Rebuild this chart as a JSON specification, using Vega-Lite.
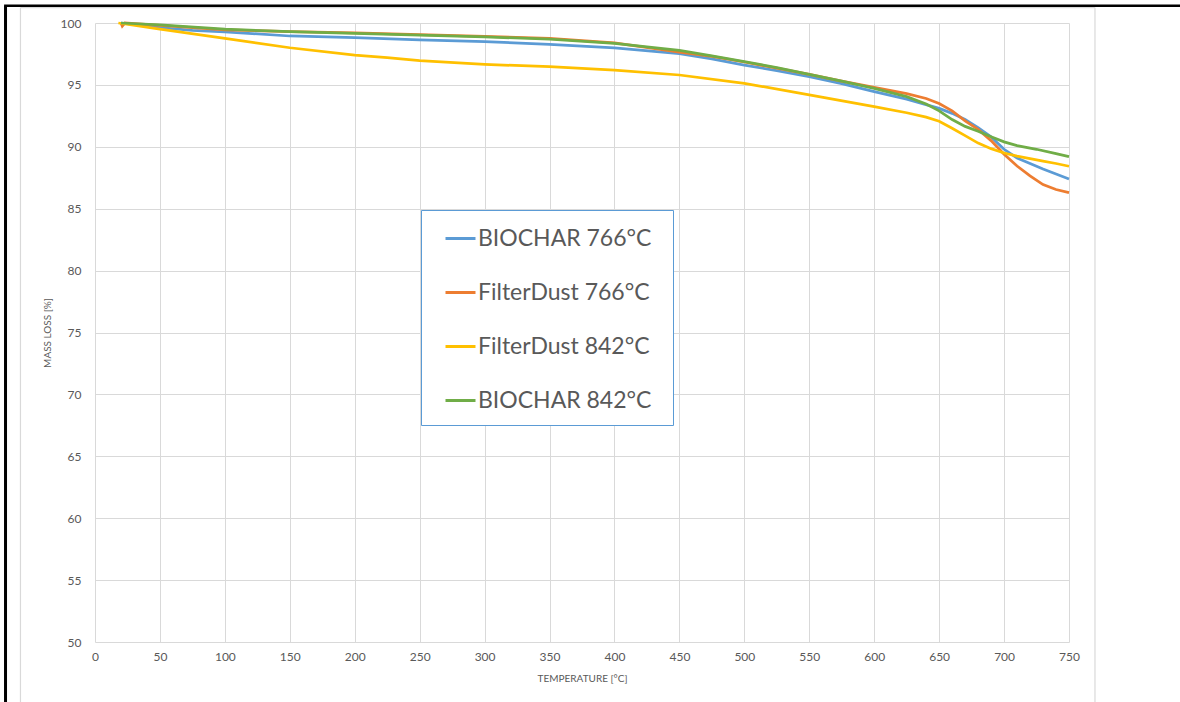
{
  "$schema": "https://vega.github.io/schema/vega-lite/v6.json",
  "width": 974,
  "height": 619,
  "autosize": {"type": "none"},
  "padding": {"left": 95, "top": 23, "right": 111, "bottom": 60},
  "background": "white",
  "config": {
    "view": {"stroke": null},
    "font": "Lato",
    "axis": {
      "labelFont": "Lato", "titleFont": "Lato",
      "labelColor": "#595959", "titleColor": "#595959",
      "grid": true, "gridColor": "#d9d9d9", "gridWidth": 1,
      "domain": false, "ticks": false, "labelFlush": false,
      "labelFontSize": 12, "titleFontSize": 10, "titleFontWeight": "normal"
    }
  },
  "datasets": {
    "curves": [
      {"s": "BIOCHAR 766°C", "t": 20, "v": 100},
      {"s": "BIOCHAR 766°C", "t": 50, "v": 99.62},
      {"s": "BIOCHAR 766°C", "t": 75, "v": 99.4},
      {"s": "BIOCHAR 766°C", "t": 100, "v": 99.28},
      {"s": "BIOCHAR 766°C", "t": 150, "v": 98.95},
      {"s": "BIOCHAR 766°C", "t": 200, "v": 98.82},
      {"s": "BIOCHAR 766°C", "t": 250, "v": 98.63},
      {"s": "BIOCHAR 766°C", "t": 300, "v": 98.5},
      {"s": "BIOCHAR 766°C", "t": 350, "v": 98.27},
      {"s": "BIOCHAR 766°C", "t": 400, "v": 98.0},
      {"s": "BIOCHAR 766°C", "t": 450, "v": 97.52},
      {"s": "BIOCHAR 766°C", "t": 475, "v": 97.1},
      {"s": "BIOCHAR 766°C", "t": 500, "v": 96.6},
      {"s": "BIOCHAR 766°C", "t": 525, "v": 96.15},
      {"s": "BIOCHAR 766°C", "t": 550, "v": 95.66},
      {"s": "BIOCHAR 766°C", "t": 575, "v": 95.1},
      {"s": "BIOCHAR 766°C", "t": 600, "v": 94.45},
      {"s": "BIOCHAR 766°C", "t": 625, "v": 93.85},
      {"s": "BIOCHAR 766°C", "t": 650, "v": 93.1},
      {"s": "BIOCHAR 766°C", "t": 660, "v": 92.7},
      {"s": "BIOCHAR 766°C", "t": 670, "v": 92.2},
      {"s": "BIOCHAR 766°C", "t": 680, "v": 91.55},
      {"s": "BIOCHAR 766°C", "t": 690, "v": 90.8},
      {"s": "BIOCHAR 766°C", "t": 700, "v": 89.8},
      {"s": "BIOCHAR 766°C", "t": 710, "v": 89.1},
      {"s": "BIOCHAR 766°C", "t": 720, "v": 88.65},
      {"s": "BIOCHAR 766°C", "t": 730, "v": 88.2},
      {"s": "BIOCHAR 766°C", "t": 740, "v": 87.8},
      {"s": "BIOCHAR 766°C", "t": 750, "v": 87.4},
      {"s": "FilterDust 766°C", "t": 20, "v": 100},
      {"s": "FilterDust 766°C", "t": 21, "v": 99.75},
      {"s": "FilterDust 766°C", "t": 23, "v": 100},
      {"s": "FilterDust 766°C", "t": 50, "v": 99.8},
      {"s": "FilterDust 766°C", "t": 100, "v": 99.45},
      {"s": "FilterDust 766°C", "t": 150, "v": 99.3},
      {"s": "FilterDust 766°C", "t": 200, "v": 99.2},
      {"s": "FilterDust 766°C", "t": 250, "v": 99.07},
      {"s": "FilterDust 766°C", "t": 300, "v": 98.92},
      {"s": "FilterDust 766°C", "t": 350, "v": 98.75},
      {"s": "FilterDust 766°C", "t": 400, "v": 98.4},
      {"s": "FilterDust 766°C", "t": 450, "v": 97.65},
      {"s": "FilterDust 766°C", "t": 475, "v": 97.3},
      {"s": "FilterDust 766°C", "t": 500, "v": 96.85},
      {"s": "FilterDust 766°C", "t": 525, "v": 96.35},
      {"s": "FilterDust 766°C", "t": 550, "v": 95.85},
      {"s": "FilterDust 766°C", "t": 575, "v": 95.3},
      {"s": "FilterDust 766°C", "t": 600, "v": 94.8},
      {"s": "FilterDust 766°C", "t": 625, "v": 94.3},
      {"s": "FilterDust 766°C", "t": 640, "v": 93.9},
      {"s": "FilterDust 766°C", "t": 650, "v": 93.5},
      {"s": "FilterDust 766°C", "t": 660, "v": 92.9},
      {"s": "FilterDust 766°C", "t": 670, "v": 92.1},
      {"s": "FilterDust 766°C", "t": 680, "v": 91.4},
      {"s": "FilterDust 766°C", "t": 690, "v": 90.5},
      {"s": "FilterDust 766°C", "t": 700, "v": 89.4},
      {"s": "FilterDust 766°C", "t": 710, "v": 88.45},
      {"s": "FilterDust 766°C", "t": 720, "v": 87.65},
      {"s": "FilterDust 766°C", "t": 730, "v": 86.95},
      {"s": "FilterDust 766°C", "t": 740, "v": 86.55},
      {"s": "FilterDust 766°C", "t": 750, "v": 86.3},
      {"s": "FilterDust 842°C", "t": 18, "v": 100},
      {"s": "FilterDust 842°C", "t": 50, "v": 99.5},
      {"s": "FilterDust 842°C", "t": 100, "v": 98.76},
      {"s": "FilterDust 842°C", "t": 150, "v": 98.0},
      {"s": "FilterDust 842°C", "t": 200, "v": 97.4},
      {"s": "FilterDust 842°C", "t": 225, "v": 97.2},
      {"s": "FilterDust 842°C", "t": 250, "v": 96.96},
      {"s": "FilterDust 842°C", "t": 300, "v": 96.66},
      {"s": "FilterDust 842°C", "t": 350, "v": 96.47},
      {"s": "FilterDust 842°C", "t": 400, "v": 96.2},
      {"s": "FilterDust 842°C", "t": 450, "v": 95.8},
      {"s": "FilterDust 842°C", "t": 500, "v": 95.13},
      {"s": "FilterDust 842°C", "t": 550, "v": 94.2},
      {"s": "FilterDust 842°C", "t": 600, "v": 93.24},
      {"s": "FilterDust 842°C", "t": 625, "v": 92.75},
      {"s": "FilterDust 842°C", "t": 640, "v": 92.4},
      {"s": "FilterDust 842°C", "t": 650, "v": 92.06},
      {"s": "FilterDust 842°C", "t": 660, "v": 91.5},
      {"s": "FilterDust 842°C", "t": 670, "v": 90.9},
      {"s": "FilterDust 842°C", "t": 680, "v": 90.3},
      {"s": "FilterDust 842°C", "t": 690, "v": 89.85},
      {"s": "FilterDust 842°C", "t": 700, "v": 89.5},
      {"s": "FilterDust 842°C", "t": 710, "v": 89.25},
      {"s": "FilterDust 842°C", "t": 720, "v": 89.05},
      {"s": "FilterDust 842°C", "t": 730, "v": 88.85},
      {"s": "FilterDust 842°C", "t": 740, "v": 88.65},
      {"s": "FilterDust 842°C", "t": 750, "v": 88.43},
      {"s": "BIOCHAR 842°C", "t": 20, "v": 100},
      {"s": "BIOCHAR 842°C", "t": 50, "v": 99.85},
      {"s": "BIOCHAR 842°C", "t": 100, "v": 99.5},
      {"s": "BIOCHAR 842°C", "t": 150, "v": 99.3},
      {"s": "BIOCHAR 842°C", "t": 200, "v": 99.17},
      {"s": "BIOCHAR 842°C", "t": 250, "v": 99.03},
      {"s": "BIOCHAR 842°C", "t": 300, "v": 98.87},
      {"s": "BIOCHAR 842°C", "t": 350, "v": 98.7},
      {"s": "BIOCHAR 842°C", "t": 400, "v": 98.36},
      {"s": "BIOCHAR 842°C", "t": 450, "v": 97.78},
      {"s": "BIOCHAR 842°C", "t": 475, "v": 97.35},
      {"s": "BIOCHAR 842°C", "t": 500, "v": 96.88},
      {"s": "BIOCHAR 842°C", "t": 525, "v": 96.4},
      {"s": "BIOCHAR 842°C", "t": 550, "v": 95.85},
      {"s": "BIOCHAR 842°C", "t": 575, "v": 95.3},
      {"s": "BIOCHAR 842°C", "t": 600, "v": 94.72},
      {"s": "BIOCHAR 842°C", "t": 625, "v": 94.05},
      {"s": "BIOCHAR 842°C", "t": 640, "v": 93.45},
      {"s": "BIOCHAR 842°C", "t": 650, "v": 92.9},
      {"s": "BIOCHAR 842°C", "t": 660, "v": 92.2},
      {"s": "BIOCHAR 842°C", "t": 670, "v": 91.65},
      {"s": "BIOCHAR 842°C", "t": 680, "v": 91.25},
      {"s": "BIOCHAR 842°C", "t": 690, "v": 90.82},
      {"s": "BIOCHAR 842°C", "t": 700, "v": 90.4},
      {"s": "BIOCHAR 842°C", "t": 710, "v": 90.1},
      {"s": "BIOCHAR 842°C", "t": 725, "v": 89.8},
      {"s": "BIOCHAR 842°C", "t": 740, "v": 89.45},
      {"s": "BIOCHAR 842°C", "t": 750, "v": 89.2}
    ]
  },
  "layer": [
    {
      "data": {"values": [{}]},
      "mark": {"type": "rule", "color": "#d9d9d9", "strokeWidth": 1.2},
      "encoding": {
        "x": {"datum": -57.4, "type": "quantitative"},
        "y": {"datum": 101.25, "type": "quantitative"},
        "y2": {"datum": 44}
      }
    },
    {
      "data": {"values": [{}]},
      "mark": {"type": "rule", "color": "#d9d9d9", "strokeWidth": 1.2},
      "encoding": {
        "x": {"datum": 770, "type": "quantitative"},
        "y": {"datum": 101.25, "type": "quantitative"},
        "y2": {"datum": 44}
      }
    },
    {
      "data": {"values": [{}]},
      "mark": {"type": "rule", "color": "#d9d9d9", "strokeWidth": 1.2},
      "encoding": {
        "x": {"datum": -57.4, "type": "quantitative"},
        "x2": {"datum": 770},
        "y": {"datum": 101.25, "type": "quantitative"}
      }
    },
    {
      "data": {"values": [{}]},
      "mark": {"type": "rule", "color": "black", "strokeWidth": 3},
      "encoding": {
        "x": {"datum": -68.9, "type": "quantitative"},
        "y": {"datum": 101.4, "type": "quantitative"},
        "y2": {"datum": 44}
      }
    },
    {
      "data": {"values": [{}]},
      "mark": {"type": "rule", "color": "black", "strokeWidth": 2.5},
      "encoding": {
        "x": {"datum": -70, "type": "quantitative"},
        "x2": {"datum": 900},
        "y": {"datum": 101.4, "type": "quantitative"}
      }
    },
    {
      "data": {"name": "curves"},
      "mark": {"type": "line", "strokeWidth": 2.75, "clip": false},
      "encoding": {
        "x": {
          "field": "t", "type": "quantitative",
          "scale": {"domain": [0, 750], "nice": false, "zero": false},
          "axis": {
            "title": "TEMPERATURE [°C]", "grid": true, "labelFlush": false,
            "values": [0, 50, 100, 150, 200, 250, 300, 350, 400, 450, 500, 550, 600, 650, 700, 750],
            "labelPadding": 9, "titleY": 36, "titleBaseline": "middle"
          }
        },
        "y": {
          "field": "v", "type": "quantitative",
          "scale": {"domain": [50, 100], "nice": false, "zero": false},
          "axis": {
            "title": "MASS LOSS [%]", "grid": true, "labelFlush": false,
            "values": [50, 55, 60, 65, 70, 75, 80, 85, 90, 95, 100],
            "labelPadding": 14, "titleX": -48, "titleBaseline": "middle"
          }
        },
        "color": {
          "field": "s", "type": "nominal",
          "scale": {
            "domain": ["BIOCHAR 766°C", "FilterDust 766°C", "FilterDust 842°C", "BIOCHAR 842°C"],
            "range": ["#5B9BD5", "#ED7D31", "#FFC000", "#70AD47"]
          },
          "legend": {
            "title": "\u00a0", "titleOrient": "right", "titleFontSize": 10, "titlePadding": 10,
            "orient": "none", "legendX": 326, "legendY": 187,
            "symbolType": "stroke", "symbolSize": 900, "symbolStrokeWidth": 3,
            "labelFontSize": 23, "labelFont": "Lato", "labelColor": "#595959",
            "labelLimit": 400,
            "labelOffset": 1, "strokeColor": "#5B9BD5", "fillColor": "white",
            "padding": 12, "rowPadding": 25, "symbolOffset": 11
          }
        },
        "order": {"field": "t", "type": "quantitative"}
      }
    }
  ]
}
